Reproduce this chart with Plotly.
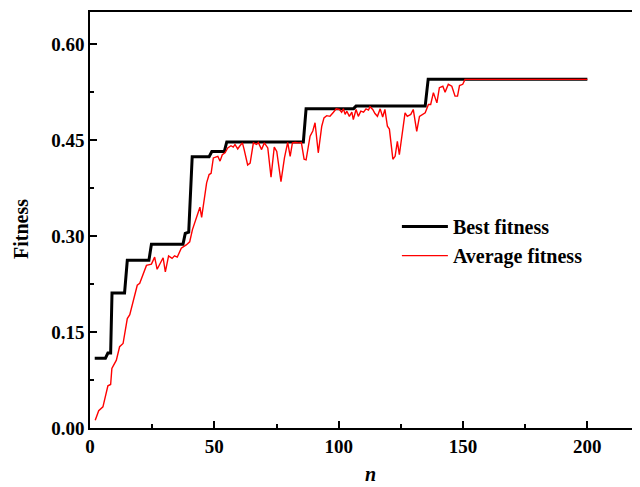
import plotly.graph_objects as go

# Best fitness (step curve): generation, value
best_n = [1.9, 6.2, 7.2, 8.3, 8.85, 13.9, 15, 23.7, 24.7, 37.4, 38.3, 39.7, 41.1,
          47.9, 49, 54, 55, 85.8, 86.9, 106, 107, 134.8, 136, 200]
best_v = [0.109, 0.109, 0.117, 0.117, 0.211, 0.211, 0.262, 0.262, 0.287, 0.287,
          0.304, 0.306, 0.424, 0.424, 0.432, 0.432, 0.447, 0.447, 0.499, 0.499,
          0.503, 0.503, 0.545, 0.545]

# Average fitness
avg_n = [2.1, 3.5, 5.2, 6.6, 7.2, 8.3, 8.8, 10.6, 11.9, 13.3, 15, 16, 19, 20, 22.7,
         24.7, 26, 27, 28.4, 29.4, 30.3, 31.6, 33, 34, 35.1, 36.7, 38.7, 40.1, 41.2,
         42.9, 44.2, 44.9, 46, 46.9, 47.9, 48.7, 49.6, 50.6, 51.4, 52.3, 53.2, 54.3,
         55.4, 56.7, 57.6, 58.3, 59.4, 60.3, 61.3, 62, 63.4, 64.4, 65.7, 67, 67.7, 69,
         70.1, 71.5, 72.8, 74.1, 75.1, 76.8, 78.2, 79.5, 80.5, 81.4, 82.5, 84, 85,
         86.1, 86.9, 88.5, 89.6, 90.5, 91.8, 93.2, 94.1, 95.2, 96.5, 97.9, 99, 100.3,
         101.2, 101.9, 102.6, 103.3, 104.3, 105.3, 105.9, 107, 107.9, 108.9, 110, 111,
         112, 112.6, 113.7, 114.6, 115.6, 116.7, 117.7, 118.6, 119.6, 120.4, 121.8,
         122.7, 123.6, 124.4, 125.4, 126.7, 127.6, 129, 130, 131.4, 132.5, 133.8,
         134.8, 136.1, 137, 138.1, 139.5, 140.5, 141.9, 142.8, 144.1, 145.5, 146.8,
         147.8, 148.6, 149.9, 150.8, 200]
avg_v = [0.012, 0.027, 0.033, 0.054, 0.066, 0.068, 0.093, 0.106, 0.127, 0.132, 0.171,
         0.177, 0.223, 0.226, 0.254, 0.256, 0.267, 0.248, 0.260, 0.266, 0.244, 0.269,
         0.265, 0.269, 0.267, 0.281, 0.286, 0.291, 0.310, 0.328, 0.345, 0.329, 0.359,
         0.383, 0.396, 0.398, 0.422, 0.4235, 0.4245, 0.417, 0.427, 0.430, 0.4376,
         0.441, 0.439, 0.443, 0.436, 0.441, 0.4455, 0.435, 0.411, 0.414, 0.4455,
         0.443, 0.446, 0.435, 0.4455, 0.4376, 0.392, 0.439, 0.432, 0.385, 0.422,
         0.4464, 0.4245, 0.4455, 0.446, 0.4455, 0.446, 0.420, 0.419, 0.456, 0.464,
         0.477, 0.430, 0.4715, 0.4846, 0.488, 0.487, 0.4934, 0.4987, 0.4977, 0.4934,
         0.4987, 0.490, 0.495, 0.487, 0.4934, 0.482, 0.4977, 0.487, 0.495, 0.4934,
         0.4987, 0.4967, 0.502, 0.4977, 0.4914, 0.487, 0.4987, 0.486, 0.4977, 0.4715,
         0.467, 0.420, 0.4245, 0.448, 0.427, 0.453, 0.4925, 0.487, 0.490, 0.4977,
         0.4636, 0.487, 0.490, 0.4925, 0.5055, 0.5055, 0.524, 0.508, 0.5317, 0.534,
         0.5248, 0.537, 0.534, 0.5185, 0.5185, 0.535, 0.537, 0.5447, 0.5447]

x_ticks = [0, 50, 100, 150, 200]
y_ticks = [0.00, 0.15, 0.30, 0.45, 0.60]
y_tick_labels = ["0.00", "0.15", "0.30", "0.45", "0.60"]

FONT = "Liberation Serif, Times New Roman, serif"

fig = go.Figure()
fig.add_trace(go.Scatter(x=best_n, y=best_v, mode="lines", name="Best fitness",
                         line=dict(color="black", width=3)))
fig.add_trace(go.Scatter(x=avg_n, y=avg_v, mode="lines", name="Average fitness",
                         line=dict(color="#ff0000", width=1.4)))

axis_common = dict(showgrid=False, zeroline=False, showline=True, linecolor="black",
                   linewidth=1.5, ticks="inside", ticklen=7, tickwidth=1.5,
                   tickcolor="black",
                   tickfont=dict(family=FONT, size=19, color="black", weight="bold"))

fig.update_xaxes(range=[0, 224.4], tickvals=x_ticks, mirror=True,
                 minor=dict(ticks="inside", ticklen=4, tickwidth=1.5, dtick=25,
                            tick0=0, tickcolor="black"),
                 **axis_common)
fig.update_yaxes(range=[0, 0.65], tickvals=y_ticks, ticktext=y_tick_labels,
                 minor=dict(ticks="inside", ticklen=4, tickwidth=1.5, dtick=0.075,
                            tick0=0, tickcolor="black"),
                 **axis_common)

fig.update_layout(
    width=640, height=479,
    margin=dict(l=82, r=0, t=4, b=59),
    paper_bgcolor="white", plot_bgcolor="white",
    showlegend=True,
    legend=dict(x=0.55, y=0.531, xanchor="left", yanchor="top",
                bgcolor="rgba(0,0,0,0)",
                font=dict(family=FONT, size=20, color="black", weight="bold"),
                itemwidth=46, tracegroupgap=0),
    annotations=[
        dict(text="<b>Fitness</b>", xref="paper", yref="paper", x=-0.124, y=0.478,
             xanchor="center", yanchor="middle", textangle=-90, showarrow=False,
             font=dict(family=FONT, size=20, color="black")),
        dict(text="<b><i>n</i></b>", xref="paper", yref="paper", x=0.502, y=-0.111,
             xanchor="center", yanchor="middle", showarrow=False,
             font=dict(family=FONT, size=20, color="black")),
    ],
)

fig.write_html("out.html")
